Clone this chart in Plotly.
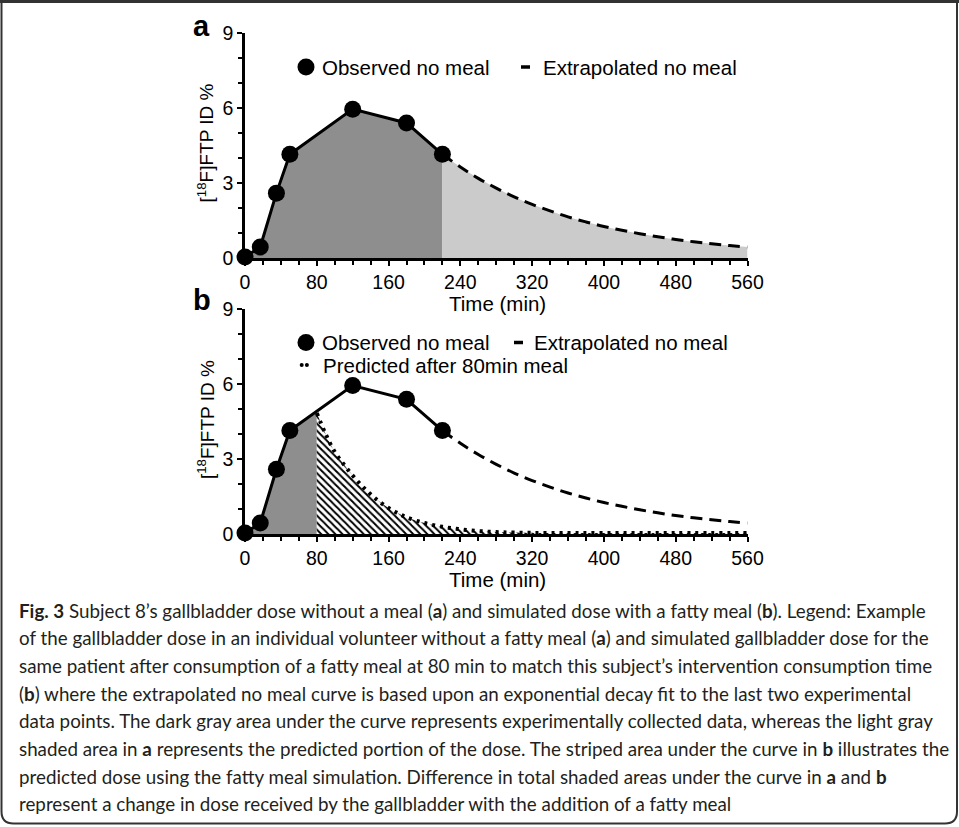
import plotly.graph_objects as go

# ---------------- data ----------------
obs_t = [0, 17, 35, 50, 120, 180, 220]
obs_v = [0.05, 0.45, 2.6, 4.15, 5.95, 5.4, 4.15]

ext_t = [220, 240, 260, 280, 300, 320, 340, 360, 380, 400, 420, 440, 460, 480, 500, 520, 540, 560]
ext_v = [4.15, 3.64, 3.19, 2.80, 2.45, 2.15, 1.89, 1.65, 1.45, 1.27, 1.12, 0.98, 0.86, 0.75, 0.66, 0.58, 0.51, 0.45]

pred_t = [80, 90, 100, 110, 120, 130, 140, 150, 160, 170, 180, 200, 220, 240, 260, 280, 300, 340, 400, 480, 560]
pred_v = [4.85, 4.0, 3.3, 2.8, 2.35, 1.95, 1.6, 1.3, 1.05, 0.85, 0.68, 0.45, 0.3, 0.2, 0.13, 0.09, 0.07, 0.05, 0.05, 0.05, 0.05]

x_ticks = [0, 80, 160, 240, 320, 400, 480, 560]
y_ticks = [0, 3, 6, 9]

caption_lines = [
    "<b>Fig. 3</b> Subject 8’s gallbladder dose without a meal (<b>a</b>) and simulated dose with a fatty meal (<b>b</b>). Legend: Example",
    "of the gallbladder dose in an individual volunteer without a fatty meal (<b>a</b>) and simulated gallbladder dose for the",
    "same patient after consumption of a fatty meal at 80 min to match this subject’s intervention consumption time",
    "(<b>b</b>) where the extrapolated no meal curve is based upon an exponential decay fit to the last two experimental",
    "data points. The dark gray area under the curve represents experimentally collected data, whereas the light gray",
    "shaded area in <b>a</b> represents the predicted portion of the dose. The striped area under the curve in <b>b</b> illustrates the",
    "predicted dose using the fatty meal simulation. Difference in total shaded areas under the curve in <b>a</b> and <b>b</b>",
    "represent a change in dose received by the gallbladder with the addition of a fatty meal",
]

# ---------------- layout helpers ----------------
W, H = 959, 827
def px(x):
    return x / W
def py(y):
    return 1 - y / H

DARK = "#8e8e8e"
LIGHT = "#cbcbcb"
FONT = "Liberation Sans, Arial, sans-serif"

fig = go.Figure()

# ---- panel a ----
fig.add_trace(go.Scatter(x=obs_t, y=obs_v, mode="lines", line=dict(width=0), fill="tozeroy",
                         fillcolor=DARK, xaxis="x", yaxis="y", hoverinfo="skip"))
fig.add_trace(go.Scatter(x=ext_t, y=ext_v, mode="lines", line=dict(width=0, shape="spline"), fill="tozeroy",
                         fillcolor=LIGHT, xaxis="x", yaxis="y", hoverinfo="skip"))
fig.add_trace(go.Scatter(x=ext_t, y=ext_v, mode="lines", line=dict(color="black", width=3, dash="12px,7px", shape="spline"),
                         xaxis="x", yaxis="y", hoverinfo="skip"))
fig.add_trace(go.Scatter(x=obs_t, y=obs_v, mode="lines+markers", line=dict(color="black", width=3),
                         marker=dict(size=17, color="black"), cliponaxis=False, xaxis="x", yaxis="y", hoverinfo="skip"))

# ---- panel b ----
fig.add_trace(go.Scatter(x=obs_t[:4] + [pred_t[0]], y=obs_v[:4] + [pred_v[0]], mode="lines", line=dict(width=0),
                         fill="tozeroy", fillcolor=DARK, xaxis="x2", yaxis="y2", hoverinfo="skip"))
fig.add_trace(go.Scatter(x=pred_t, y=pred_v, mode="lines", line=dict(width=0, shape="spline"), fill="tozeroy",
                         fillcolor="white",
                         fillpattern=dict(shape="\\", fgcolor="black", bgcolor="white", size=5, solidity=0.4),
                         xaxis="x2", yaxis="y2", hoverinfo="skip"))
fig.add_trace(go.Scatter(x=pred_t, y=pred_v, mode="lines", line=dict(color="black", width=4, dash="3px,5px", shape="spline"),
                         xaxis="x2", yaxis="y2", hoverinfo="skip"))
fig.add_trace(go.Scatter(x=ext_t, y=ext_v, mode="lines", line=dict(color="black", width=3, dash="12px,7px", shape="spline"),
                         xaxis="x2", yaxis="y2", hoverinfo="skip"))
fig.add_trace(go.Scatter(x=obs_t, y=obs_v, mode="lines+markers", line=dict(color="black", width=3),
                         marker=dict(size=17, color="black"), cliponaxis=False, xaxis="x2", yaxis="y2", hoverinfo="skip"))

xdom = [px(245), px(747.5)]
xaxis_common = dict(range=[0, 560], tickvals=x_ticks, ticktext=[str(t) for t in x_ticks],
                    showline=True, linewidth=2.5, linecolor="black", ticks="outside", ticklen=5, tickwidth=2,
                    tickcolor="black", showgrid=False, zeroline=False, domain=xdom, automargin=False,
                    tickfont=dict(family=FONT, size=19.5, color="black"),
                    minor=dict(dtick=20, tick0=0, ticks="outside", ticklen=4, tickwidth=2, tickcolor="black", showgrid=False))
yaxis_common = dict(range=[0, 9], tickvals=y_ticks, ticktext=[str(t) for t in y_ticks],
                    showline=True, linewidth=2.5, linecolor="black", ticks="outside", ticklen=5, tickwidth=2,
                    tickcolor="black", showgrid=False, zeroline=False, automargin=False,
                    tickfont=dict(family=FONT, size=19.5, color="black"),
                    minor=dict(dtick=1, tick0=0, ticks="outside", ticklen=4, tickwidth=2, tickcolor="black", showgrid=False))

fig.update_layout(
    template="none",
    width=W, height=H, autosize=False, margin=dict(l=0, r=0, t=0, b=0, pad=0, autoexpand=False),
    paper_bgcolor="white", plot_bgcolor="white",
    showlegend=False,
    xaxis=dict(**xaxis_common, anchor="y"),
    yaxis=dict(**yaxis_common, anchor="x", domain=[py(258.3), py(32.7)]),
    xaxis2=dict(**xaxis_common, anchor="y2"),
    yaxis2=dict(**yaxis_common, anchor="x2", domain=[py(534.3), py(309.3)]),
)

ann = []
shapes = []
# panel letters
ann.append(dict(x=px(201.5), y=py(26), text="<b>a</b>", font=dict(family=FONT, size=29, color="black")))
ann.append(dict(x=px(201.5), y=py(300), text="<b>b</b>", font=dict(family=FONT, size=29, color="black")))
# axis titles
for yc in (143, 419.6):
    ann.append(dict(x=px(205.5), y=py(yc), text="[<sup>18</sup>F]FTP ID %", textangle=-90,
                    font=dict(family=FONT, size=19, color="black")))
for yc in (303, 579):
    ann.append(dict(x=px(497), y=py(yc), text="Time (min)", font=dict(family=FONT, size=20.5, color="black")))

# legends
def circle(cx, cy, r):
    shapes.append(dict(type="circle", xref="paper", yref="paper", x0=px(cx - r), x1=px(cx + r),
                       y0=py(cy + r), y1=py(cy - r), fillcolor="black", line=dict(width=0)))

def legtext(x, y, t):
    ann.append(dict(x=px(x), y=py(y), text=t, xanchor="left", font=dict(family=FONT, size=20.5, color="black")))

# panel a legend
circle(306, 67, 8.5)
legtext(320, 67, "Observed no meal")
shapes.append(dict(type="line", xref="paper", yref="paper", x0=px(521), x1=px(530), y0=py(67), y1=py(67),
                   line=dict(color="black", width=3.5)))
legtext(541, 67, "Extrapolated no meal")
# panel b legend
circle(306, 342.5, 8.5)
legtext(320, 342.5, "Observed no meal")
shapes.append(dict(type="line", xref="paper", yref="paper", x0=px(514), x1=px(523), y0=py(342.5), y1=py(342.5),
                   line=dict(color="black", width=3.5)))
legtext(532, 342.5, "Extrapolated no meal")
circle(301.7, 365, 2)
circle(306.9, 365, 2)
legtext(321, 365, "Predicted after 80min meal")

# caption
for i, line in enumerate(caption_lines):
    ann.append(dict(x=px(17), y=py(610 + i * 27.7), text=line, xanchor="left", yanchor="middle",
                    font=dict(family="Lato, Open Sans, sans-serif", size=18.8, color="#231f20")))

for a in ann:
    a.setdefault("xref", "paper")
    a.setdefault("yref", "paper")
    a.setdefault("showarrow", False)
    a.setdefault("xanchor", "center")
    a.setdefault("yanchor", "middle")

# frame
r = 12
path = (f"M {px(1.5)},{py(0)} L {px(1.5)},{py(823.5 - r)} Q {px(1.5)},{py(823.5)} {px(1.5 + r)},{py(823.5)} "
        f"L {px(957 - r)},{py(823.5)} Q {px(957)},{py(823.5)} {px(957)},{py(823.5 - r)} L {px(957)},{py(0)}")
shapes.append(dict(type="path", xref="paper", yref="paper", path=path, line=dict(color="#333333", width=2)))
shapes.append(dict(type="line", xref="paper", yref="paper", x0=0, x1=1, y0=py(1.5), y1=py(1.5),
                   line=dict(color="#333333", width=3)))

fig.update_layout(annotations=ann, shapes=shapes)
fig.write_html("out.html", config={"displayModeBar": False},
               post_script="document.body.style.margin='0';document.body.style.overflow='hidden';")
